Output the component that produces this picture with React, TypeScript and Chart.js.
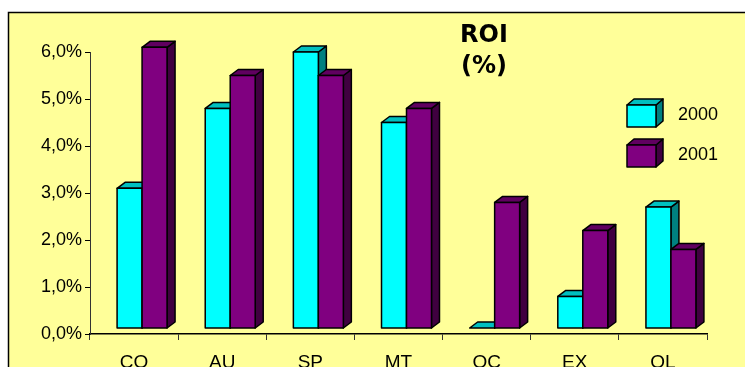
import React, { useEffect, useRef } from "react";
import { Chart, registerables } from "chart.js";

Chart.register(...registerables);

// ROI per business unit, in percent
const categories = ["CO", "AU", "SP", "MT", "OC", "EX", "OL"];
const seriesNames = ["2000", "2001"];
const roi2000 = [3.1, 4.8, 6.0, 4.5, 0.0, 0.8, 2.7];
const roi2001 = [6.1, 5.5, 5.5, 4.8, 2.8, 2.2, 1.8];
const titleLines = ["ROI", "(%)"];

// face colours for the pseudo-3D columns: front, top, side
const faces = [
  { front: "#00FFFF", top: "#00C0C0", side: "#008080" },
  { front: "#800080", top: "#600060", side: "#400040" },
];

const DEPTH_X = 8;
const DEPTH_Y = 6;
const FONT = "'Liberation Sans', Arial, sans-serif";

function drawBox(
  ctx: CanvasRenderingContext2D,
  left: number,
  right: number,
  top: number,
  bottom: number,
  dx: number,
  dy: number,
  c: { front: string; top: string; side: string }
) {
  ctx.lineWidth = 1.5;
  ctx.strokeStyle = "#000";
  ctx.lineJoin = "round";
  // side face
  ctx.beginPath();
  ctx.moveTo(right, top);
  ctx.lineTo(right + dx, top - dy);
  ctx.lineTo(right + dx, bottom - dy);
  ctx.lineTo(right, bottom);
  ctx.closePath();
  ctx.fillStyle = c.side;
  ctx.fill();
  ctx.stroke();
  // top face
  ctx.beginPath();
  ctx.moveTo(left, top);
  ctx.lineTo(left + dx, top - dy);
  ctx.lineTo(right + dx, top - dy);
  ctx.lineTo(right, top);
  ctx.closePath();
  ctx.fillStyle = c.top;
  ctx.fill();
  ctx.stroke();
  // front face
  if (bottom > top) {
    ctx.fillStyle = c.front;
    ctx.fillRect(left, top, right - left, bottom - top);
    ctx.strokeRect(left, top, right - left, bottom - top);
  }
}

const backdropPlugin = {
  id: "backdrop",
  beforeDraw(chart: any) {
    const ctx = chart.ctx as CanvasRenderingContext2D;
    ctx.save();
    ctx.fillStyle = "#ffffff";
    ctx.fillRect(0, 0, chart.width, chart.height);
    ctx.fillStyle = "#FFFF99";
    ctx.fillRect(8, 12, chart.width, chart.height);
    ctx.strokeStyle = "#000";
    ctx.lineWidth = 1.5;
    ctx.beginPath();
    ctx.moveTo(8.5, chart.height + 2);
    ctx.lineTo(8.5, 12.5);
    ctx.lineTo(chart.width + 2, 12.5);
    ctx.stroke();
    ctx.restore();
  },
};

// replaces the flat bars with front/top/side faces, placed by the bar elements
const columns3dPlugin = {
  id: "columns3d",
  beforeDatasetsDraw(chart: any) {
    const ctx = chart.ctx as CanvasRenderingContext2D;
    const yScale = chart.scales.y;
    const floor = yScale.getPixelForValue(0) - DEPTH_Y;
    ctx.save();
    const metas = chart.data.datasets.map((_: any, i: number) => chart.getDatasetMeta(i));
    const count = chart.data.labels.length;
    for (let j = 0; j < count; j++) {
      metas.forEach((meta: any, i: number) => {
        const el = meta.data[j];
        const p = el.getProps(["x", "y", "width"], true);
        const left = p.x - p.width / 2 + DEPTH_X;
        const right = p.x + p.width / 2 + DEPTH_X;
        const top = Math.min(p.y, floor);
        drawBox(ctx, left, right, top, floor, DEPTH_X, DEPTH_Y, faces[i]);
      });
    }
    ctx.restore();
    return false;
  },
};

const titleLegendPlugin = {
  id: "titleLegend",
  afterDraw(chart: any) {
    const ctx = chart.ctx as CanvasRenderingContext2D;
    ctx.save();
    ctx.fillStyle = "#000";
    ctx.textAlign = "center";
    ctx.textBaseline = "middle";
    ctx.font = `bold 24px 'DejaVu Sans', Verdana, sans-serif`;
    titleLines.forEach((t, i) => ctx.fillText(t, 484, 36 + i * 31));

    // legend with small 3D swatches
    chart.data.datasets.forEach((ds: any, i: number) => {
      const top = 105 + i * 40;
      drawBox(ctx, 627, 656, top, top + 22, 7, 6, faces[i]);
      ctx.fillStyle = "#000";
      ctx.textAlign = "left";
      ctx.font = `18px ${FONT}`;
      ctx.fillText(ds.label, 678, top + 10);
    });
    ctx.restore();
  },
};

export default function App() {
  const canvasRef = useRef<HTMLCanvasElement | null>(null);

  useEffect(() => {
    const canvas = canvasRef.current;
    if (!canvas) return;
    const chart = new Chart(canvas, {
      type: "bar",
      data: {
        labels: categories,
        datasets: [
          { label: seriesNames[0], data: roi2000, backgroundColor: faces[0].front },
          { label: seriesNames[1], data: roi2001, backgroundColor: faces[1].front },
        ],
      },
      options: {
        responsive: false,
        animation: false,
        layout: { padding: { top: 52, right: 38, left: 0, bottom: 0 } },
        datasets: {
          bar: { categoryPercentage: 0.567, barPercentage: 1 },
        },
        plugins: {
          legend: { display: false },
          title: { display: false },
          tooltip: { enabled: false },
        },
        scales: {
          x: {
            type: "category",
            offset: true,
            grid: {
              offset: true,
              drawOnChartArea: false,
              drawTicks: true,
              tickLength: 6,
              color: "#333",
              lineWidth: 1,
            },
            border: { color: "#000", width: 1.5 },
            ticks: {
              color: "#000",
              font: { family: FONT, size: 19 },
              padding: 11,
              maxRotation: 0,
            },
            afterFit: (axis: any) => {
              axis.height = 33;
            },
          },
          y: {
            min: 0,
            max: 6,
            grid: {
              drawOnChartArea: false,
              drawTicks: true,
              tickLength: 5,
              color: "#000",
              lineWidth: 1,
            },
            border: { color: "#333", width: 1 },
            ticks: {
              stepSize: 1,
              color: "#000",
              padding: 3,
              font: { family: FONT, size: 18 },
              callback: (v: any) => Number(v).toFixed(1).replace(".", ",") + "%",
            },
            afterFit: (axis: any) => {
              axis.width = 90;
            },
          },
        },
      },
      plugins: [backdropPlugin, columns3dPlugin, titleLegendPlugin],
    });
    return () => chart.destroy();
  }, []);

  return (
    <div style={{ position: "fixed", left: 0, top: 0, width: 745, height: 367, overflow: "hidden" }}>
      <canvas ref={canvasRef} width={745} height={367} style={{ display: "block" }} />
    </div>
  );
}
